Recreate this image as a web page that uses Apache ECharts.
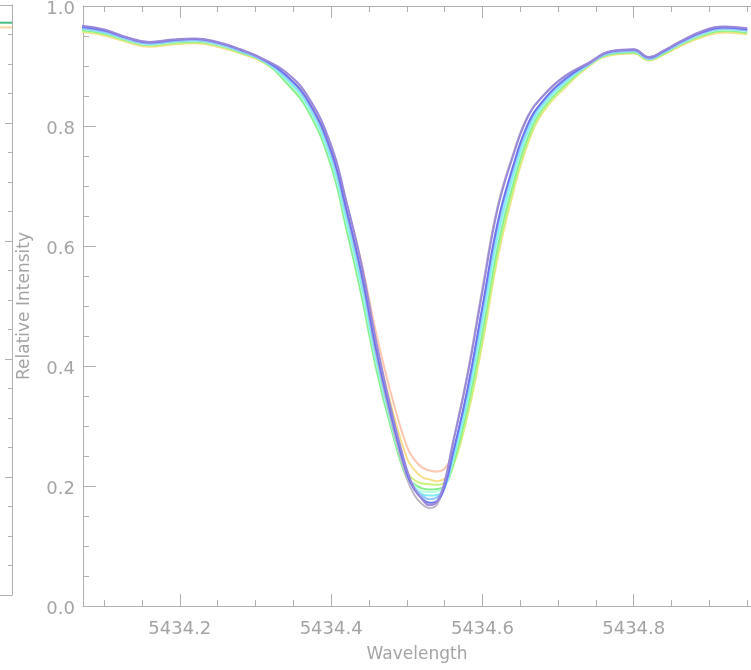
<!DOCTYPE html>
<html>
<head>
<meta charset="utf-8">
<script src="https://cdn.jsdelivr.net/npm/echarts@6/dist/echarts.min.js"></script>
<style>
  html, body { margin: 0; padding: 0; background: #fff; }
  #main { width: 751px; height: 670px; }
</style>
</head>
<body>
<div id="main"></div>
<script>
// wavelength grid (Angstrom)
const wavelength = [5434.07, 5434.10, 5434.13, 5434.16, 5434.19, 5434.22, 5434.25, 5434.28, 5434.31,
    5434.34, 5434.37, 5434.40, 5434.42, 5434.44, 5434.46, 5434.48, 5434.50, 5434.51, 5434.52,
    5434.53, 5434.54, 5434.55, 5434.56, 5434.58, 5434.60, 5434.62, 5434.64, 5434.66, 5434.68,
    5434.71, 5434.74, 5434.77, 5434.80, 5434.82, 5434.84, 5434.86, 5434.89, 5434.92, 5434.95];

// relative intensity of each profile (deepest to shallowest)
const greyFlux = [0.965,0.959,0.947,0.939,0.943,0.945,0.939,0.927,0.911, 0.885,0.840,0.756,0.659,0.551,0.418,0.306,0.213,0.185,0.170, 0.163, 0.169,0.206,0.267,0.386,0.530,0.666,0.751,0.817,0.850,0.884, 0.903,0.924,0.927,0.914,0.925,0.939,0.956,0.964,0.961];
const purpleFlux = [0.967,0.961,0.948,0.940,0.944,0.946,0.940,0.928,0.912, 0.890,0.848,0.768,0.675,0.570,0.438,0.324,0.228,0.196,0.178, 0.168, 0.174,0.207,0.265,0.382,0.524,0.661,0.748,0.815,0.850,0.884, 0.905,0.925,0.928,0.915,0.926,0.940,0.958,0.966,0.963];
const blueFlux = [0.965,0.959,0.947,0.939,0.943,0.945,0.939,0.927,0.911, 0.885,0.841,0.758,0.662,0.555,0.424,0.314,0.221,0.194,0.179, 0.172, 0.175,0.198,0.249,0.360,0.499,0.638,0.731,0.803,0.842,0.879, 0.904,0.924,0.927,0.914,0.925,0.939,0.956,0.964,0.961];
const lightBlueFlux = [0.963,0.957,0.945,0.937,0.941,0.943,0.937,0.925,0.909, 0.883,0.838,0.754,0.657,0.549,0.420,0.312,0.222,0.197,0.184, 0.178, 0.181,0.200,0.248,0.356,0.493,0.632,0.726,0.799,0.840,0.877, 0.902,0.922,0.925,0.912,0.923,0.937,0.954,0.962,0.959];
const cyanFlux = [0.962,0.956,0.945,0.937,0.941,0.943,0.937,0.925,0.909, 0.879,0.833,0.745,0.645,0.536,0.408,0.303,0.217,0.197,0.186, 0.184, 0.185,0.197,0.239,0.344,0.478,0.618,0.716,0.792,0.836,0.874, 0.902,0.922,0.925,0.912,0.923,0.937,0.954,0.962,0.959];
const mintFlux = [0.962,0.956,0.944,0.936,0.940,0.942,0.936,0.925,0.909, 0.878,0.830,0.742,0.641,0.531,0.405,0.301,0.217,0.200,0.191, 0.190, 0.191,0.200,0.238,0.341,0.472,0.612,0.712,0.789,0.834,0.873, 0.902,0.922,0.925,0.912,0.923,0.936,0.953,0.961,0.958];
const greenFlux = [0.960,0.954,0.943,0.935,0.939,0.941,0.935,0.923,0.908, 0.873,0.824,0.733,0.629,0.518,0.393,0.293,0.213,0.203,0.196, 0.194, 0.195,0.200,0.231,0.330,0.457,0.598,0.701,0.781,0.830,0.870, 0.901,0.920,0.923,0.911,0.921,0.935,0.951,0.959,0.956];
const yellowGreenFlux = [0.958,0.953,0.941,0.934,0.937,0.939,0.934,0.922,0.907, 0.874,0.827,0.738,0.637,0.529,0.405,0.305,0.224,0.210,0.204, 0.203, 0.202,0.206,0.228,0.318,0.443,0.585,0.691,0.773,0.825,0.866, 0.900,0.919,0.922,0.910,0.920,0.934,0.950,0.958,0.955];
const yellowFlux = [0.957,0.951,0.940,0.932,0.936,0.938,0.932,0.921,0.906, 0.879,0.835,0.753,0.659,0.556,0.433,0.331,0.247,0.227,0.215, 0.211, 0.208,0.212,0.230,0.316,0.438,0.579,0.686,0.770,0.823,0.865, 0.899,0.918,0.921,0.909,0.919,0.932,0.948,0.956,0.953];
const salmonFlux = [0.960,0.955,0.944,0.936,0.940,0.942,0.936,0.925,0.910, 0.885,0.843,0.764,0.673,0.573,0.452,0.350,0.266,0.244,0.231, 0.226, 0.224,0.229,0.251,0.345,0.466,0.603,0.705,0.784,0.833,0.872, 0.904,0.922,0.925,0.913,0.923,0.936,0.952,0.959,0.957];

// tick positions on the wavelength axis
const majorTicks = [5434.2, 5434.4, 5434.6, 5434.8];
const minorTicks = [5434.1, 5434.15, 5434.25, 5434.3, 5434.35, 5434.45, 5434.5, 5434.55,
    5434.65, 5434.7, 5434.75, 5434.85, 5434.9, 5434.95];

// neighbouring (cut-off) panel on the left
const leftPanelX = [0, 1];
const leftGreen = [0.970, 0.970];
const leftOrange = [0.962, 0.962];

const axisGrey = '#b0b0b0';
const textGrey = '#a4a4a4';
const font = 'DejaVu Sans';

const profiles = [
    { name: 'salmon', data: salmonFlux, color: '#fcc6b0' },
    { name: 'yellow', data: yellowFlux, color: '#f6de8a' },
    { name: 'yellowgreen', data: yellowGreenFlux, color: '#ccf27e' },
    { name: 'green', data: greenFlux, color: '#86f08e' },
    { name: 'mint', data: mintFlux, color: '#bafce6' },
    { name: 'cyan', data: cyanFlux, color: '#82eef2' },
    { name: 'lightblue', data: lightBlueFlux, color: '#90c8fc' },
    { name: 'grey', data: greyFlux, color: '#bfb6c6' },
    { name: 'blue', data: blueFlux, color: '#6c74ee' },
    { name: 'purple', data: purpleFlux, color: '#9a88da' }
];

const chart = echarts.init(document.getElementById('main'), null, { renderer: 'canvas' });

const xMin = 5434.072, xMax = 5434.955;

function frameLine(show) {
    return { show: show, onZero: false, lineStyle: { color: axisGrey, width: 1 } };
}

function tickAxis(position, values, len, showLine) {
    return {
        type: 'value', gridIndex: 0, position: position, min: xMin, max: xMax,
        axisLine: frameLine(showLine),
        axisTick: { show: true, inside: true, length: len, customValues: values,
            lineStyle: { color: axisGrey, width: 1 } },
        axisLabel: { show: false },
        splitLine: { show: false }
    };
}

const series = profiles.map(p => ({
    name: p.name,
    type: 'line',
    xAxisIndex: 0,
    yAxisIndex: 0,
    data: wavelength.map((w, i) => [w, p.data[i]]),
    smooth: 0.45,
    showSymbol: false,
    lineStyle: { color: p.color, width: 2 },
    silent: true
}));

series.push({
    type: 'line', xAxisIndex: 4, yAxisIndex: 1, showSymbol: false,
    data: leftPanelX.map((x, i) => [x, leftOrange[i]]),
    lineStyle: { color: '#fcd4a4', width: 2 }
});
series.push({
    type: 'line', xAxisIndex: 4, yAxisIndex: 1, showSymbol: false,
    data: leftPanelX.map((x, i) => [x, leftGreen[i]]),
    lineStyle: { color: '#48bc80', width: 2 }
});

chart.setOption({
    animation: false,
    backgroundColor: '#fff',
    grid: [
        { left: 83, right: 0, top: 6, bottom: 64, outerBoundsMode: 'none' },
        { left: 0, right: 739, top: 5, bottom: 75, outerBoundsMode: 'none' }
    ],
    xAxis: [
        {
            type: 'value', gridIndex: 0, position: 'bottom', min: xMin, max: xMax,
            name: 'Wavelength', nameLocation: 'middle', nameGap: 40,
            nameTextStyle: { color: textGrey, fontFamily: font, fontSize: 17 },
            axisLine: frameLine(true),
            axisTick: { show: true, inside: true, length: 12, customValues: majorTicks,
                lineStyle: { color: axisGrey, width: 1 } },
            axisLabel: { customValues: majorTicks, margin: 14, color: textGrey,
                fontFamily: font, fontSize: 18, formatter: v => v.toFixed(1) },
            splitLine: { show: false }
        },
        tickAxis('bottom', minorTicks, 6, false),
        tickAxis('top', majorTicks, 12, true),
        tickAxis('top', minorTicks, 6, false),
        {
            type: 'value', gridIndex: 1, position: 'bottom', min: 0, max: 1,
            axisLine: frameLine(true),
            axisTick: { show: false }, axisLabel: { show: false }, splitLine: { show: false }
        },
        {
            type: 'value', gridIndex: 1, position: 'top', min: 0, max: 1,
            axisLine: frameLine(true),
            axisTick: { show: false }, axisLabel: { show: false }, splitLine: { show: false }
        }
    ],
    yAxis: [
        {
            type: 'value', gridIndex: 0, position: 'left', min: 0, max: 1, interval: 0.2,
            name: 'Relative Intensity', nameLocation: 'middle', nameGap: 50, nameRotate: 90,
            nameTextStyle: { color: textGrey, fontFamily: font, fontSize: 17 },
            axisLine: frameLine(true),
            axisTick: { show: true, inside: true, length: 13, lineStyle: { color: axisGrey } },
            minorTick: { show: true, splitNumber: 4, length: 6, lineStyle: { color: axisGrey } },
            axisLabel: {
                margin: 8,
                formatter: v => '{v|' + v.toFixed(1) + '}',
                rich: { v: { color: textGrey, fontFamily: font, fontSize: 18, padding: [7, 0, 0, 0] } }
            },
            splitLine: { show: false }
        },
        {
            type: 'value', gridIndex: 1, position: 'right', min: 0, max: 1, interval: 0.2,
            axisLine: frameLine(true),
            axisTick: { show: true, inside: true, length: 7, lineStyle: { color: axisGrey } },
            minorTick: { show: true, splitNumber: 4, length: 4, lineStyle: { color: axisGrey } },
            axisLabel: { show: false },
            splitLine: { show: false }
        }
    ],
    series: series
});
</script>
</body>
</html>
